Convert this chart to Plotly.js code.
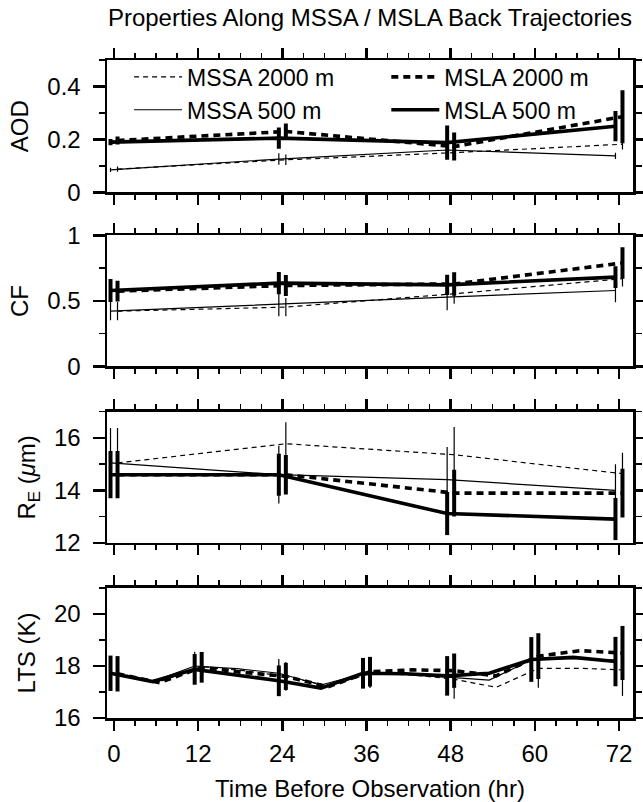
<!DOCTYPE html>
<html><head><meta charset="utf-8">
<script src="https://cdn.plot.ly/plotly-3.0.1.min.js"></script>
<style>html,body{margin:0;padding:0;background:#fff}#chart{width:643px;height:802px}</style>
</head><body><div id="chart"></div>
<script>
// ---------------- data ----------------
const hours = [0, 24, 48, 72];
const ltsHours = [0, 6, 12, 18, 24, 30, 36, 42, 48, 54, 60, 66, 72];
const xTickVals = [0, 12, 24, 36, 48, 60, 72];
const xTickText = ['0', '12', '24', '36', '48', '60', '72'];

// AOD
const aodMssa2000 = [0.088, 0.123, 0.150, 0.182];
const aodMssa500  = [0.085, 0.126, 0.160, 0.138];
const aodMsla2000 = [0.196, 0.230, 0.173, 0.286];
const aodMsla500  = [0.190, 0.205, 0.188, 0.250];
const aodMssa2000Err = [0.010, 0.020, 0.020, 0.020];
const aodMssa500Err  = [0.008, 0.022, 0.020, 0.012];
const aodMsla2000Err = [0.015, 0.030, 0.053, 0.100];
const aodMsla500Err  = [0.012, 0.040, 0.065, 0.057];

// CF
const cfMssa2000 = [0.422, 0.453, 0.555, 0.670];
const cfMssa500  = [0.422, 0.478, 0.530, 0.580];
const cfMsla2000 = [0.575, 0.618, 0.630, 0.790];
const cfMsla500  = [0.580, 0.636, 0.623, 0.682];
const cfMssa2000Err = [0.070, 0.070, 0.077, 0.060];
const cfMssa500Err  = [0.070, 0.095, 0.100, 0.090];
const cfMsla2000Err = [0.080, 0.080, 0.090, 0.120];
const cfMsla500Err  = [0.087, 0.085, 0.077, 0.083];

// Effective radius
const reMssa2000 = [15.05, 15.78, 15.36, 14.64];
const reMssa500  = [15.05, 14.60, 14.41, 14.00];
const reMsla2000 = [14.60, 14.60, 13.90, 13.90];
const reMsla500  = [14.60, 14.60, 13.12, 12.91];
const reMssa2000Err = [1.33, 0.82, 1.06, 0.80];
const reMssa500Err  = [1.33, 1.10, 1.25, 1.00];
const reMsla2000Err = [0.90, 0.75, 0.89, 0.93];
const reMsla500Err  = [0.90, 0.80, 0.82, 0.80];

// LTS
const ltsMssa2000 = [17.72, 17.40, 17.97, 17.82, 17.60, 17.24, 17.70, 17.66, 17.49, 17.18, 17.91, 17.91, 17.85];
const ltsMssa500  = [17.72, 17.40, 18.00, 17.90, 17.72, 17.27, 17.70, 17.70, 17.57, 17.46, 18.23, 18.29, 18.23];
const ltsMsla2000 = [17.70, 17.36, 17.95, 17.75, 17.60, 17.20, 17.78, 17.85, 17.82, 17.62, 18.38, 18.59, 18.50];
const ltsMsla500  = [17.72, 17.40, 17.87, 17.66, 17.43, 17.15, 17.72, 17.70, 17.62, 17.72, 18.25, 18.33, 18.17];
const ltsMssa2000Err = [0.60, null, 0.55, null, 0.55, null, 0.55, null, 0.75, null, 0.75, null, 1.00];
const ltsMssa500Err  = [0.60, null, 0.55, null, 0.55, null, 0.55, null, 0.60, null, 0.75, null, 0.80];
const ltsMsla2000Err = [0.68, null, 0.59, null, 0.52, null, 0.57, null, 0.66, null, 0.88, null, 1.04];
const ltsMsla500Err  = [0.68, null, 0.59, null, 0.59, null, 0.59, null, 0.76, null, 0.86, null, 0.95];

// ---------------- build ----------------
const FONT = 'Liberation Sans, Arial, Helvetica, sans-serif';
const FS = 24;

const series = [
  {name: 'MSSA 2000 m', key: 'mssa2000', width: 1.2, dash: '5px,4px', errThick: 1.2, off: 0.5, legend: 'legend'},
  {name: 'MSSA 500 m',  key: 'mssa500',  width: 1.2, dash: 'solid',   errThick: 1.2, off: -0.5, legend: 'legend'},
  {name: 'MSLA 2000 m', key: 'msla2000', width: 3.6, dash: '7px,5px', errThick: 4, off: 0.5, legend: 'legend2'},
  {name: 'MSLA 500 m',  key: 'msla500',  width: 3.6, dash: 'solid',   errThick: 4, off: -0.5, legend: 'legend2'}
];

const panels = [
  {x: hours, vals: {mssa2000: aodMssa2000, mssa500: aodMssa500, msla2000: aodMsla2000, msla500: aodMsla500},
   errs: {mssa2000: aodMssa2000Err, mssa500: aodMssa500Err, msla2000: aodMsla2000Err, msla500: aodMsla500Err},
   title: 'AOD', range: [0, 0.5], dtick: 0.2, minor: 0.1},
  {x: hours, vals: {mssa2000: cfMssa2000, mssa500: cfMssa500, msla2000: cfMsla2000, msla500: cfMsla500},
   errs: {mssa2000: cfMssa2000Err, mssa500: cfMssa500Err, msla2000: cfMsla2000Err, msla500: cfMsla500Err},
   title: 'CF', range: [0, 1], dtick: 0.5, minor: 0.25},
  {x: hours, vals: {mssa2000: reMssa2000, mssa500: reMssa500, msla2000: reMsla2000, msla500: reMsla500},
   errs: {mssa2000: reMssa2000Err, mssa500: reMssa500Err, msla2000: reMsla2000Err, msla500: reMsla500Err},
   title: 'R<sub>E</sub> (<i>μ</i>m)', range: [12, 17], dtick: 2, minor: 1},
  {x: ltsHours, vals: {mssa2000: ltsMssa2000, mssa500: ltsMssa500, msla2000: ltsMsla2000, msla500: ltsMsla500},
   errs: {mssa2000: ltsMssa2000Err, mssa500: ltsMssa500Err, msla2000: ltsMsla2000Err, msla500: ltsMsla500Err},
   title: 'LTS (K)', range: [16, 21], dtick: 2, minor: 1}
];

const domains = [[0.7988, 1.0], [0.5343, 0.7333], [0.266, 0.4655], [0.0, 0.1976]];

const traces = [];
panels.forEach((p, i) => {
  const sfx = i === 0 ? '' : String(i + 1);
  series.forEach(s => {
    traces.push({
      type: 'scatter', mode: 'lines', name: s.name,
      x: p.x.map(h => h + s.off), y: p.vals[s.key],
      line: {color: '#000', width: s.width, dash: s.dash},
      error_y: {type: 'data', array: p.errs[s.key], visible: true, thickness: s.errThick, width: 0, color: '#000'},
      xaxis: 'x' + sfx, yaxis: 'y' + sfx,
      showlegend: i === 0, legend: s.legend, hoverinfo: 'skip'
    });
  });
});

const legendBase = {y: 1.007, xanchor: 'left', yanchor: 'top', bgcolor: 'rgba(0,0,0,0)', borderwidth: 0,
  font: {family: FONT, size: 23, color: '#000'}, tracegroupgap: 0, itemwidth: 48};

const layout = {
  width: 643, height: 802,
  margin: {l: 107, r: 10, t: 60, b: 84},
  paper_bgcolor: '#fff', plot_bgcolor: '#fff',
  font: {family: FONT, size: FS, color: '#000'},
  title: {text: 'Properties Along MSSA / MSLA Back Trajectories', x: 0.5, xref: 'paper', xanchor: 'center',
          y: 1 - 18 / 802, yref: 'container', yanchor: 'middle', font: {family: FONT, size: 24, color: '#000'}},
  legend: Object.assign({x: 0.042}, legendBase),
  legend2: Object.assign({x: 0.531}, legendBase),
  showlegend: true
};

panels.forEach((p, i) => {
  const sfx = i === 0 ? '' : String(i + 1);
  const xa = {
    anchor: 'y' + sfx, domain: [0, 1], range: [-1, 74],
    tickmode: 'array', tickvals: xTickVals, ticktext: xTickText,
    ticks: 'outside', ticklen: 10, tickwidth: 2.5, tickcolor: '#000',
    showline: true, linewidth: 2.5, linecolor: '#000', mirror: 'ticks',
    showgrid: false, zeroline: false, showticklabels: i === 3,
    ticklabelstandoff: 3,
    tickfont: {family: FONT, size: FS, color: '#000'},
    minor: {dtick: 3, tick0: 0, ticks: 'outside', ticklen: 5, tickwidth: 1.5, tickcolor: '#000', showgrid: false}
  };
  if (i === 3) xa.title = {text: 'Time Before Observation (hr)', font: {family: FONT, size: FS, color: '#000'}, standoff: 14};
  layout['xaxis' + sfx] = xa;
  layout['yaxis' + sfx] = {
    anchor: 'x' + sfx, domain: domains[i], range: p.range,
    dtick: p.dtick, tick0: 0,
    ticks: 'outside', ticklen: 12, tickwidth: 2.5, tickcolor: '#000',
    showline: true, linewidth: 2.5, linecolor: '#000', mirror: 'ticks',
    showgrid: false, zeroline: false, ticklabelstandoff: 7,
    tickfont: {family: FONT, size: FS, color: '#000'},
    minor: {dtick: p.minor, ticks: 'outside', ticklen: 6, tickwidth: 1.5, tickcolor: '#000', showgrid: false},
    title: {text: p.title, font: {family: FONT, size: FS, color: '#000'}, standoff: 12}
  };
});

Plotly.newPlot('chart', traces, layout, {displayModeBar: false, staticPlot: true});
</script>
</body></html>
